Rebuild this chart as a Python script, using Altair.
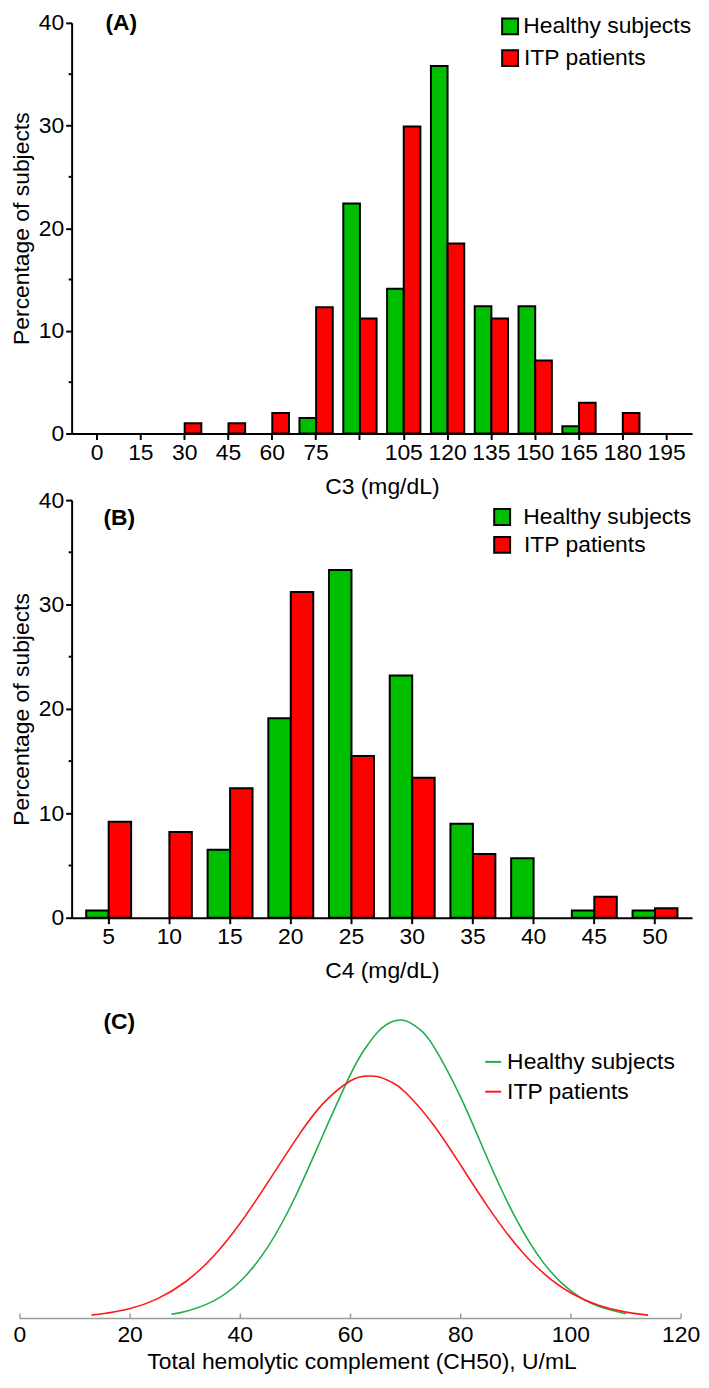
import altair as alt
import pandas as pd

FONT = "Liberation Sans"
FS = 23
GREEN = "#00bf00"
RED = "#ff0000"
LINE_GREEN = "#1fae4b"
LINE_RED = "#ff1a1a"
AXIS_GREY = "#9b9b9b"
groups = ["Healthy subjects", "ITP patients"]

# Panel A: C3 (mg/dL)
c3_bins = [0, 15, 30, 45, 60, 75, 90, 105, 120, 135, 150, 165, 180, 195]
c3_healthy = [0, 0, 0, 0, 0, 1.5, 22.4, 14.1, 35.8, 12.4, 12.4, 0.7, 0, 0]
c3_itp = [0, 0, 1.0, 1.0, 2.0, 12.3, 11.2, 29.9, 18.5, 11.2, 7.1, 3.0, 2.0, 0]

# Panel B: C4 (mg/dL)
c4_bins = [5, 10, 15, 20, 25, 30, 35, 40, 45, 50]
c4_healthy = [0.7, 0, 6.5, 19.1, 33.3, 23.2, 9.0, 5.7, 0.7, 0.7]
c4_itp = [9.2, 8.2, 12.4, 31.2, 15.5, 13.4, 6.1, 0, 2.0, 0.9]

y_major = [0, 10, 20, 30, 40]
y_minor = [5, 15, 25, 35]

# Panel C: CH50 curves (relative height)
ch50_ticks = [0, 20, 40, 60, 80, 100, 120]
healthy_x = [27.5, 30, 35, 40, 45, 50, 55, 60, 62.5, 65, 67.5, 70, 72.5, 75, 80, 85,
             90, 95, 100, 105, 110]
healthy_y = [4.2, 6.9, 17.1, 37.3, 71.9, 122.6, 184.5, 245.4, 270.2, 288.3, 298.3,
             299.3, 291.0, 274.4, 222.3, 159.0, 100.5, 56.1, 27.7, 12.1, 4.6]
itp_x = [13, 15, 20, 25, 30, 35, 40, 45, 50, 55, 60, 62.5, 65, 67.5, 70, 75, 80, 85,
         90, 95, 100, 105, 110, 114]
itp_y = [3.3, 4.6, 10.0, 19.9, 36.6, 61.8, 96.0, 136.8, 179.3, 216.0, 239.0, 243.6,
         243.1, 237.5, 227.2, 195.1, 154.0, 111.7, 74.4, 45.6, 25.6, 13.3, 6.3, 3.3]


def bar_df(bins, healthy, itp):
    rows = []
    for b, v in zip(bins, healthy):
        if v > 0:
            rows.append({"bin": b, "group": groups[0], "pct": v})
    for b, v in zip(bins, itp):
        if v > 0:
            rows.append({"bin": b, "group": groups[1], "pct": v})
    return pd.DataFrame(rows)


def text_layer(txt, x, y, bold=False, align="left"):
    return alt.Chart(pd.DataFrame({"t": [txt]})).mark_text(
        align=align, baseline="middle", fontSize=FS, font=FONT, color="black",
        fontWeight="bold" if bold else "normal"
    ).encode(x=alt.value(x), y=alt.value(y), text="t:N")


def legend_layers(kind, colors, sym_x, text_x, rows_y, first_right=None):
    layers = []
    for k, (name, color, y) in enumerate(zip(groups, colors, rows_y)):
        one = pd.DataFrame({"t": [name]})
        if kind == "square":
            sym = alt.Chart(one).mark_square(size=256, color=color, opacity=1, filled=True,
                                             stroke="black", strokeWidth=2).encode(
                x=alt.value(sym_x + 8), y=alt.value(y))
        else:
            sym = alt.Chart(one).mark_rule(color=color, strokeWidth=2).encode(
                x=alt.value(sym_x), x2=alt.value(sym_x + 16), y=alt.value(y))
        layers.append(sym)
        if k == 0 and first_right is not None:
            layers.append(text_layer(name, first_right, y, align="right"))
        else:
            layers.append(text_layer(name, text_x, y))
    return layers


def bar_panel(df, bins, xtitle, tag, pin, pout, width, height,
              sym_x, text_x, first_right, rows_y, tagx, tagy, label_expr):
    yscale = alt.Scale(domain=[0, 40], nice=False)
    bars = alt.Chart(df).mark_bar(stroke="black", strokeWidth=2).encode(
        x=alt.X("bin:O",
                scale=alt.Scale(domain=bins, paddingInner=pin, paddingOuter=pout),
                axis=alt.Axis(title=xtitle, labelAngle=0, labelExpr=label_expr,
                              domainColor="black", domainWidth=2,
                              tickColor="black", tickWidth=2, tickSize=6,
                              labelPadding=2, titlePadding=11)),
        xOffset=alt.XOffset("group:N", scale=alt.Scale(domain=groups)),
        y=alt.Y("pct:Q", scale=yscale,
                axis=alt.Axis(title="Percentage of subjects", values=y_major, tickSize=6,
                              domainColor="black", domainWidth=2,
                              tickColor="black", tickWidth=2,
                              labelPadding=2, titlePadding=5, grid=False)),
        color=alt.Color("group:N",
                        scale=alt.Scale(domain=groups, range=[GREEN, RED]),
                        legend=None),
    )
    minor = alt.Chart(pd.DataFrame({"m": y_minor})).mark_rule(color="black", strokeWidth=2).encode(
        y=alt.Y("m:Q", scale=yscale),
        x=alt.value(0), x2=alt.value(-3),
    )
    layers = [bars, minor, text_layer(tag, tagx, tagy, bold=True)]
    layers += legend_layers("square", [GREEN, RED], sym_x, text_x, rows_y, first_right)
    return alt.layer(*layers).properties(width=width, height=height)


dfA = bar_df(c3_bins, c3_healthy, c3_itp)
dfB = bar_df(c4_bins, c4_healthy, c4_itp)

PW = 624
panelA = bar_panel(dfA, c3_bins, "C3 (mg/dL)", "(A)", 0.24, 0.2, PW, 413,
                   433, 455, 623, [3.5, 35.5], 34, 0,
                   "datum.value == 90 ? '' : datum.label")
panelB = bar_panel(dfB, c4_bins, "C4 (mg/dL)", "(B)", 0.26, 0.24, PW, 420,
                   425, 455, 623, [17, 45], 32, 18,
                   "datum.label")

curve_rows = [{"group": groups[0], "x": x, "y": y} for x, y in zip(healthy_x, healthy_y)]
curve_rows += [{"group": groups[1], "x": x, "y": y} for x, y in zip(itp_x, itp_y)]
dfC = pd.DataFrame(curve_rows)

C_H = 336
C_W = 613
xscaleC = alt.Scale(domain=[0, 120], nice=False, range=[-52, 613])

lines = alt.Chart(dfC).mark_line(strokeWidth=1.6, interpolate="natural").encode(
    x=alt.X("x:Q", scale=xscaleC, axis=None),
    y=alt.Y("y:Q", scale=alt.Scale(domain=[0, C_H], nice=False), axis=None),
    color=alt.Color("group:N", scale=alt.Scale(domain=groups, range=[LINE_GREEN, LINE_RED]),
                    legend=None),
    detail="group:N",
)
tick_df = pd.DataFrame({"v": ch50_ticks})
span_df = pd.DataFrame({"lo": [ch50_ticks[0]], "hi": [ch50_ticks[-1]]})
axis_line = alt.Chart(span_df).mark_rule(color=AXIS_GREY, strokeWidth=1.5).encode(
    x=alt.X("lo:Q", scale=xscaleC, axis=None), x2="hi:Q", y=alt.value(C_H))
ticks_up = alt.Chart(tick_df).mark_rule(color=AXIS_GREY, strokeWidth=1.5).encode(
    x=alt.X("v:Q", scale=xscaleC, axis=None),
    y=alt.value(C_H),
    y2=alt.value(C_H - 5),
)
tick_labels = alt.Chart(tick_df).mark_text(
    align="center", baseline="middle", fontSize=FS, font=FONT, color="black"
).encode(x=alt.X("v:Q", scale=xscaleC, axis=None), y=alt.value(C_H + 17), text="v:Q")
c_title = text_layer("Total hemolytic complement (CH50), U/mL", 292, C_H + 44, align="center")

layersC = [lines, axis_line, ticks_up, tick_labels, c_title,
           text_layer("(C)", 32, 38, bold=True)]
layersC += legend_layers("line", [LINE_GREEN, LINE_RED], 416, 438, [78, 108])
panelC = alt.layer(*layersC).properties(width=C_W, height=C_H)

chart = alt.vconcat(panelA, panelB, panelC, spacing=67, bounds="flush").resolve_scale(
    color="independent", xOffset="independent", x="independent", y="independent"
).properties(
    padding={"left": 2, "top": 0, "right": 0, "bottom": 0}
).configure_axis(
    labelFont=FONT, titleFont=FONT, labelFontSize=FS, titleFontSize=FS,
    labelColor="black", titleColor="black", titleFontWeight="normal"
).configure_view(stroke=None).configure_text(font=FONT)

chart.save("out.html", embed_options={"renderer": "svg", "actions": False})
